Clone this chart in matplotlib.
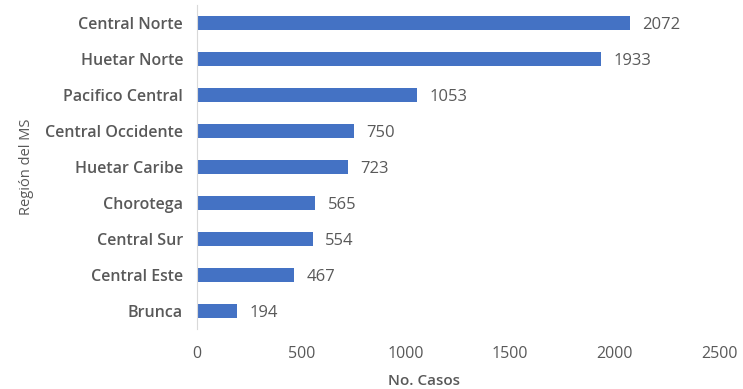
import matplotlib.pyplot as plt

# Datos por región
regiones = ['Central Norte', 'Huetar Norte', 'Pacifico Central', 'Central Occidente',
            'Huetar Caribe', 'Chorotega', 'Central Sur', 'Central Este', 'Brunca']
casos = [2072, 1933, 1053, 750, 723, 565, 554, 467, 194]
ticks_x = [0, 500, 1000, 1500, 2000, 2500]

gris = '#595959'
plt.rcParams['font.family'] = ['Open Sans', 'DejaVu Sans']

fig = plt.figure(figsize=(7.43, 3.89), dpi=100)
ax = fig.add_axes([0.265, 0.154, 0.703, 0.833])

y = list(range(len(regiones)))
ax.barh(y, casos, height=0.38, color='#4472C4')
ax.set_ylim(len(regiones) - 0.5, -0.5)
ax.set_xlim(0, 2500)

for yi, v in zip(y, casos):
    ax.text(v + 60, yi + 0.05, str(v), va='center', ha='left', fontsize=12, color=gris)

ax.set_yticks(y)
ax.set_yticklabels(regiones, fontsize=11.5, color=gris, fontweight='semibold')
ax.set_xticks(ticks_x)
ax.set_xticklabels([str(t) for t in ticks_x], fontsize=11.5, color=gris)
ax.tick_params(axis='both', length=0)
ax.tick_params(axis='y', pad=10)
ax.tick_params(axis='x', pad=12)

for s in ['top', 'right', 'bottom']:
    ax.spines[s].set_visible(False)
ax.spines['left'].set_color('#D9D9D9')

ax.set_xlabel('No. Casos', fontsize=11, color=gris, fontweight='semibold', labelpad=9, x=0.435)
ax.set_ylabel('Región del MS', fontsize=10.5, color=gris, labelpad=8)

fig.savefig('out.png', dpi=100)
